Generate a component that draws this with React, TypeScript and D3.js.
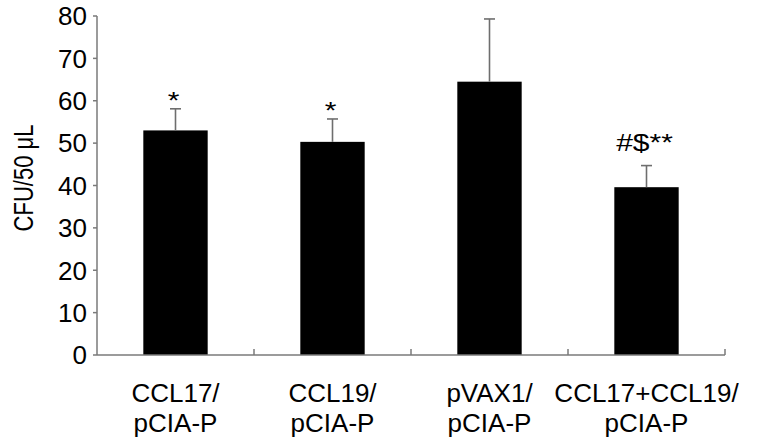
import React from "react";
import * as d3 from "d3";

const categories = ["CCL17/\npCIA-P", "CCL19/\npCIA-P", "pVAX1/\npCIA-P", "CCL17+CCL19/\npCIA-P"];
const means = [53.0, 50.3, 64.5, 39.6];
const errors = [5.1, 5.4, 14.8, 5.1];
const annotations = ["*", "*", "", "#$**"];
const yTicks = [0, 10, 20, 30, 40, 50, 60, 70, 80];

const W = 757;
const H = 448;
const left = 97;
const right = 725;
const top = 16;
const bottom = 355;
const FONT = "'Liberation Sans', Arial, Helvetica, sans-serif";
const AXIS = "#7a7a7a";

export default function App() {
  const x = d3
    .scaleBand<string>()
    .domain(categories)
    .range([left, right])
    .paddingInner(0.59)
    .paddingOuter(0.295);
  const y = d3.scaleLinear().domain([0, 80]).range([bottom, top]);
  const step = x.step();

  return (
    <svg
      width={W}
      height={H}
      style={{ position: "absolute", left: 0, top: 0, background: "#fff" }}
      fontFamily={FONT}
    >
      {categories.map((c, i) => (
        <rect
          key={"b" + i}
          x={x(c)!}
          y={y(means[i])}
          width={x.bandwidth()}
          height={y(0) - y(means[i])}
          fill="#000"
        />
      ))}
      {categories.map((c, i) => {
        const cx = x(c)! + x.bandwidth() / 2;
        const yt = y(means[i] + errors[i]);
        return (
          <g key={"e" + i} stroke="#6e6e6e" strokeWidth={1.6}>
            <line x1={cx} x2={cx} y1={y(means[i])} y2={yt} />
            <line x1={cx - 5.5} x2={cx + 5.5} y1={yt} y2={yt} />
          </g>
        );
      })}
      {categories.map((c, i) => {
        const a = annotations[i];
        if (!a) return null;
        const cx = x(c)! + x.bandwidth() / 2;
        const yt = y(means[i] + errors[i]);
        const onlyStars = /^\*+$/.test(a);
        const by = onlyStars ? yt + 0.5 : yt - 14.5;
        return (
          <text
            key={"a" + i}
            transform={`translate(${cx - 2}, ${by}) scale(1.25, 1)`}
            textAnchor="middle"
            fontSize={24}
            fill="#000"
          >
            {a}
          </text>
        );
      })}
      <line x1={left} x2={left} y1={top} y2={bottom} stroke={AXIS} strokeWidth={1.5} />
      {yTicks.map((t) => (
        <g key={"t" + t}>
          <line x1={left - 4} x2={left} y1={y(t)} y2={y(t)} stroke={AXIS} strokeWidth={1.5} />
          <text
            x={left - 10}
            y={y(t)}
            dy="0.36em"
            textAnchor="end"
            fontSize={26}
            fill="#000"
          >
            {t}
          </text>
        </g>
      ))}
      <line x1={left} x2={right} y1={bottom} y2={bottom} stroke={AXIS} strokeWidth={1.5} />
      {categories.map((c, i) => {
        const bx = left + step * (i + 1);
        return (
          <line key={"xt" + i} x1={bx} x2={bx} y1={bottom} y2={bottom - 6} stroke={AXIS} strokeWidth={1.5} />
        );
      })}
      {categories.map((c, i) => {
        const cx = x(c)! + x.bandwidth() / 2;
        const lines = c.split("\n");
        return (
          <text key={"xl" + i} textAnchor="middle" fontSize={26} fill="#000">
            {lines.map((l, j) => (
              <tspan key={j} x={cx} y={402 + j * 30}>
                {l}
              </tspan>
            ))}
          </text>
        );
      })}
      <text
        transform={`translate(33, 178) rotate(-90) scale(1, 1.25)`}
        textAnchor="middle"
        fontSize={22}
        fill="#000"
      >
        CFU/50 μL
      </text>
    </svg>
  );
}
